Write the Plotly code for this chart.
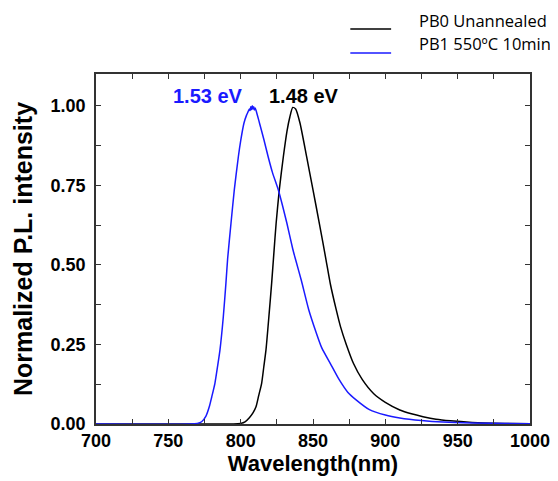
import plotly.graph_objects as go

# ---- data ----
series_names = ["PB0 Unannealed", "PB1 550ºC 10min"]
series_colors = ["#000000", "#1a1aff"]

pb0_wl = [700, 760, 795, 800, 803, 806, 808.5, 810.6, 812.5, 814.5, 816, 817.5, 819.5,
          821.4, 823, 824.5, 826.7, 829.5, 832, 834, 836, 838, 841, 845.6, 850, 854.4,
          859, 862, 866, 869, 873, 878, 884, 892, 900, 910, 918, 926, 935, 945, 960, 975, 1000]
pb0_int = [0, 0, 0, 0.002, 0.007, 0.02, 0.035, 0.054, 0.09, 0.128, 0.18, 0.233, 0.337,
           0.442, 0.54, 0.63, 0.736, 0.84, 0.92, 0.965, 0.995, 0.99, 0.946, 0.84, 0.736, 0.63,
           0.516, 0.44, 0.36, 0.306, 0.25, 0.19, 0.14, 0.095, 0.068, 0.044, 0.032, 0.023, 0.015,
           0.01, 0.005, 0.002, 0.001]

pb1_wl = [700, 765, 770, 773, 776, 778.3, 780, 782.2, 784, 785.7, 788, 789.8, 791, 793.3,
          795.6, 798.4, 800, 802.3, 804, 805, 806, 806.5, 807, 807.5, 808, 808.5, 809, 809.5,
          810, 811, 813, 816, 819, 822, 826, 829, 832, 836, 838, 842, 847, 852, 856, 862,
          868, 874, 880, 889, 900, 910, 925, 940, 960, 1000]
pb1_int = [0, 0, 0.002, 0.007, 0.025, 0.054, 0.085, 0.128, 0.18, 0.233, 0.337, 0.442, 0.52, 0.63,
           0.736, 0.84, 0.89, 0.946, 0.97, 0.98, 0.99, 0.985, 0.997, 0.988, 1.0, 0.99, 0.997, 0.987,
           0.993, 0.98, 0.946, 0.895, 0.84, 0.79, 0.736, 0.685, 0.63, 0.55, 0.516, 0.45, 0.36,
           0.29, 0.24, 0.19, 0.14, 0.10, 0.075, 0.045, 0.028, 0.019, 0.011, 0.006, 0.003, 0.001]

x_tickvals = [700, 725, 750, 775, 800, 825, 850, 875, 900, 925, 950, 975, 1000]
x_ticktext = ["700", "", "750", "", "800", "", "850", "", "900", "", "950", "", "1000"]
y_tickvals = [0, 0.125, 0.25, 0.375, 0.5, 0.625, 0.75, 0.875, 1.0]
y_ticktext = ["0.00", "", "0.25", "", "0.50", "", "0.75", "", "1.00"]

peak_labels = ["1.53 eV", "1.48 eV"]
peak_label_x = [777.5, 843.5]
peak_label_y = [1.03, 1.03]
peak_label_colors = ["#1a1aff", "#000000"]

# ---- figure ----
fig = go.Figure()
fig.add_trace(go.Scatter(x=pb0_wl, y=pb0_int, mode="lines", name=series_names[0],
                         line=dict(color=series_colors[0], width=1.5, shape="spline", smoothing=0.6),
                         showlegend=False))
fig.add_trace(go.Scatter(x=pb1_wl, y=pb1_int, mode="lines", name=series_names[1],
                         line=dict(color=series_colors[1], width=1.5, shape="spline", smoothing=0.6),
                         showlegend=False))

bold = dict(family="Arial", size=18, color="#000000", weight="bold")

# the page body adds an 8px offset at top/left, so the figure is 8px smaller there
fig.update_layout(
    width=550, height=473,
    margin=dict(l=88, r=28, t=66, b=57, autoexpand=False),
    paper_bgcolor="white", plot_bgcolor="white",
    showlegend=False,
    xaxis=dict(range=[700, 1000], tickvals=x_tickvals, ticktext=x_ticktext,
               ticks="inside", ticklen=5, tickwidth=1.3, tickcolor="#333",
               showline=True, linecolor="#333", linewidth=1.5, mirror="ticks",
               showgrid=False, zeroline=False, tickfont=bold, ticklabelstandoff=0,
               ticklabeloverflow="allow", automargin=False,
               title=dict(text="Wavelength(nm)", standoff=3,
                          font=dict(family="Arial", size=22, color="#000", weight="bold"))),
    yaxis=dict(range=[0, 1.1], tickvals=y_tickvals, ticktext=y_ticktext,
               ticks="inside", ticklen=5, tickwidth=1.3, tickcolor="#333",
               showline=True, linecolor="#333", linewidth=1.5, mirror="ticks",
               showgrid=False, zeroline=False, tickfont=bold, ticklabelstandoff=5,
               automargin=False,
               title=dict(text="Normalized P.L. intensity", standoff=11,
                          font=dict(family="Arial", size=25, color="#000", weight="bold"))),
)

for t, x, y, c in zip(peak_labels, peak_label_x, peak_label_y, peak_label_colors):
    fig.add_annotation(x=x, y=y, xref="x", yref="y", text=t, showarrow=False,
                       font=dict(family="Arial", size=20, color=c, weight="bold"))

# legend drawn manually above the plot (top right)
leg_line_y = [1.1286, 1.06]
leg_text_y = [1.154, 1.087]
for name, col, ly, ty in zip(series_names, series_colors, leg_line_y, leg_text_y):
    fig.add_shape(type="line", xref="paper", yref="paper", x0=0.586, x1=0.68, y0=ly, y1=ly,
                  line=dict(color=col, width=1.5))
    fig.add_annotation(x=0.7396, y=ty, xref="paper", yref="paper", text=name, showarrow=False,
                       xanchor="left", yanchor="middle",
                       font=dict(family="Open Sans", size=16.5, color="#000"))

fig.write_html("out.html")
